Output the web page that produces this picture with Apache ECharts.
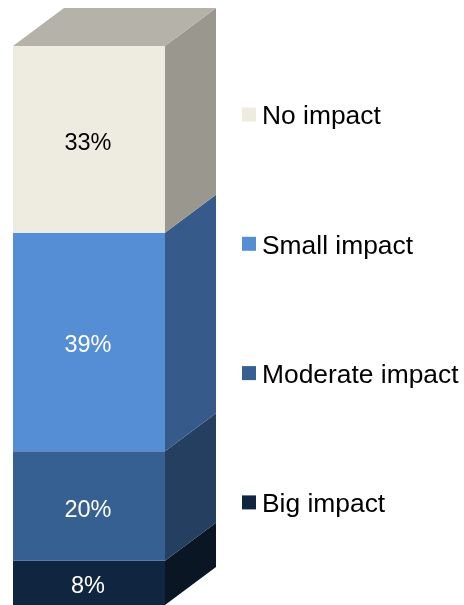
<!DOCTYPE html>
<html>
<head>
<meta charset="utf-8">
<style>html,body{margin:0;padding:0;background:#fff;overflow:hidden}#c{width:464px;height:605px}</style>
<script src="https://cdn.jsdelivr.net/npm/echarts@6/dist/echarts.min.js"></script>
</head>
<body>
<div id="c"></div>
<script>
var categories = ['Response'];
var seriesNames = ['Big impact', 'Moderate impact', 'Small impact', 'No impact'];
var seriesValues = [7.9, 19.6, 39.1, 33.4];
var legendOrder = ['No impact', 'Small impact', 'Moderate impact', 'Big impact'];
var frontColors = ['#10253f', '#376092', '#558ed5', '#eeece1'];
var sideColors = ['#0a1623', '#243f5f', '#365b8a', '#9a978f'];
var labelColors = ['#ffffff', '#ffffff', '#ffffff', '#000000'];
var topColor = '#b5b2aa';
var depthX = 51, depthY = 38;

var chart = echarts.init(document.getElementById('c'), null, {renderer: 'canvas'});
var base = 0;
var series = seriesNames.map(function (name, i) {
  var low = base, high = base + seriesValues[i];
  base = high;
  var isTop = i === seriesNames.length - 1;
  return {
    name: name,
    type: 'custom',
    coordinateSystem: 'cartesian2d',
    clip: false,
    silent: true,
    itemStyle: {color: frontColors[i]},
    encode: {x: 0, y: [1, 2]},
    data: [[categories[0], low, high]],
    z: 2,
    renderItem: function (params, api) {
      var lo = api.coord([0, api.value(1)]);
      var hi = api.coord([0, api.value(2)]);
      var w = api.size([1, 0])[0];
      var x0 = lo[0] - w / 2, x1 = lo[0] + w / 2;
      var children = [
        {type: 'polygon', shape: {points: [[x1, lo[1]], [x1 + depthX, lo[1] - depthY], [x1 + depthX, hi[1] - depthY], [x1, hi[1]]]}, style: {fill: sideColors[i]}},
        {type: 'rect', shape: {x: x0, y: hi[1], width: w, height: lo[1] - hi[1]}, style: {fill: frontColors[i]}}
      ];
      if (isTop) {
        children.push({type: 'polygon', shape: {points: [[x0, hi[1]], [x0 + depthX, hi[1] - depthY], [x1 + depthX, hi[1] - depthY], [x1, hi[1]]]}, style: {fill: topColor}});
      }
      children.push({
        type: 'text',
        x: lo[0] - 1,
        y: (lo[1] + hi[1]) / 2 + 4,
        style: {
          text: Math.round(api.value(2) - api.value(1)) + '%',
          fill: labelColors[i],
          font: '23.5px "Liberation Sans", Arial, sans-serif',
          textAlign: 'center',
          textVerticalAlign: 'middle'
        }
      });
      return {type: 'group', children: children};
    }
  };
});

chart.setOption({
  animation: false,
  backgroundColor: '#ffffff',
  grid: {left: 13, top: 46, width: 152, height: 560},
  xAxis: {type: 'category', data: categories, show: false},
  yAxis: {type: 'value', min: 0, max: 100, show: false},
  legend: {
    orient: 'vertical',
    left: 242,
    top: 104,
    padding: 0,
    itemWidth: 14,
    itemHeight: 14,
    itemGap: 103.3,
    icon: 'rect',
    selectedMode: false,
    data: legendOrder,
    formatter: function (name) { return '{s| }{a|' + name + '}'; },
    textStyle: {
      color: '#000000',
      fontFamily: '"Liberation Sans", Arial, sans-serif',
      fontSize: 26.4,
      rich: {
        s: {fontSize: 3, lineHeight: 31, width: 1},
        a: {
          color: '#000000',
          fontFamily: '"Liberation Sans", Arial, sans-serif',
          fontSize: 26.4,
          lineHeight: 30,
          verticalAlign: 'bottom'
        }
      }
    }
  },
  series: series
});
</script>
</body>
</html>
